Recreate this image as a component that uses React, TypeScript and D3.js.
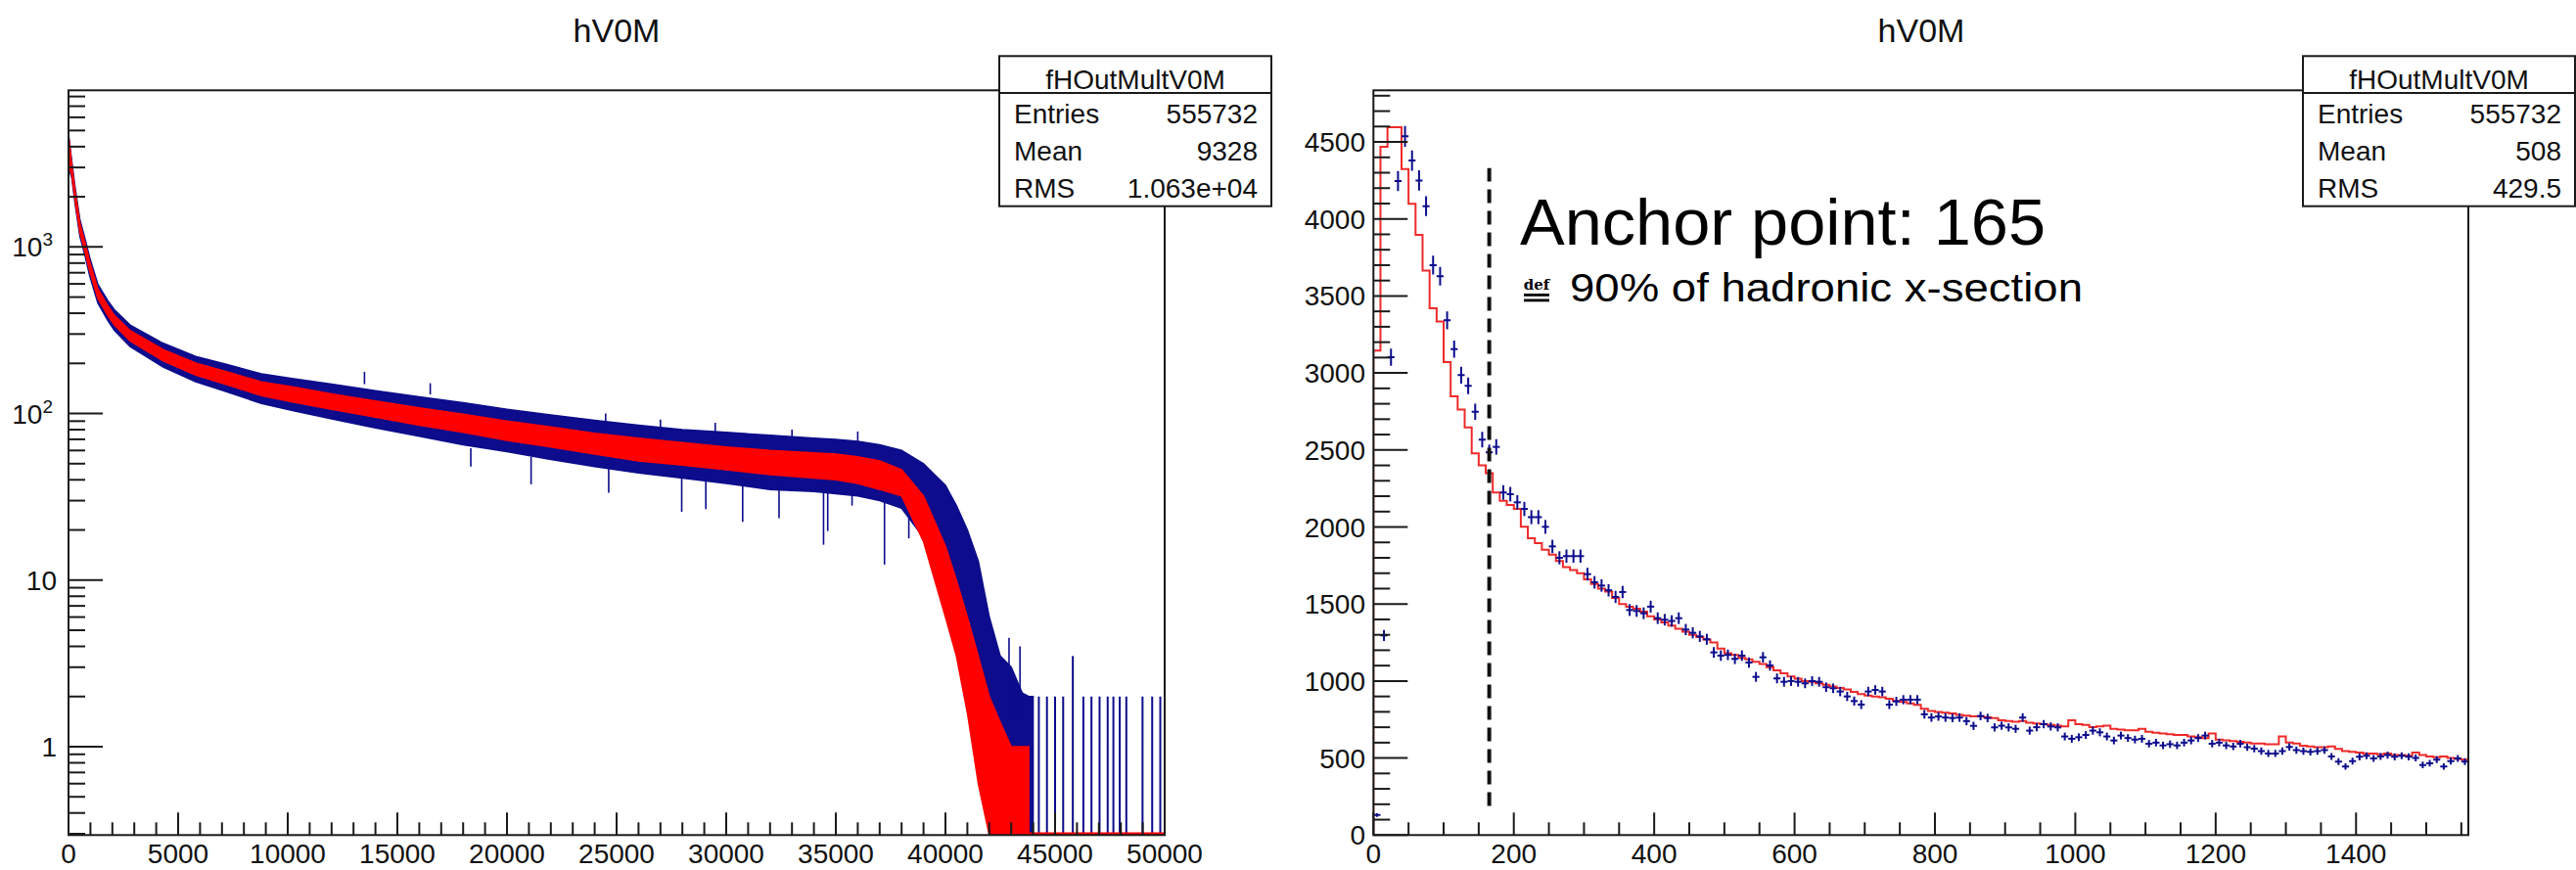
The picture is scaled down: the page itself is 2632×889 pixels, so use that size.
import React from "react";
import * as d3 from "d3";

const W = 2632;
const H = 889;
const FONT = "'Liberation Sans', Arial, Helvetica, sans-serif";
const BLUE = "#0c0c8c";
const RED = "#ff0000";
const RED_LINE = "#ef2a2a";
const AXIS = "#1a1a1a";

// ---------- Full range V0M amplitude (log scale) ----------
// The 5000-bin histograms are drawn as their min/max envelope per x position.
const bandX = [
  0, 150, 300, 520, 750, 970, 1340, 1790, 2090, 2810, 4320, 5800, 7280, 8800,
  10270, 12000, 14000, 16000, 18000, 20000, 22000, 24000, 26000, 28000, 30000,
  32000, 34000, 35000, 36000, 37000, 38000, 39000, 40000, 40500, 41000, 41500,
  42000, 42500, 43000, 43500, 43800, 44000,
];
const simLo = [
  3100, 2700, 1900, 1220, 935, 710, 490, 388, 340, 273, 207, 170, 148, 128,
  117, 106, 95, 85, 77, 69, 63, 57, 52, 49, 46, 43, 41, 40, 38, 35, 32, 17,
  6, 3.5, 1.6, 0.6, 0.29, 0.29, 0.29, 0.29, 0.29, null,
];
const simHi = [
  4700, 3100, 2170, 1390, 1070, 815, 560, 444, 390, 315, 242, 201, 177, 155,
  144, 131, 119, 108, 99, 90, 83, 76, 71, 67, 63, 60, 58, 57, 55, 52, 46, 32,
  16, 10, 6, 3.5, 2, 1.4, 1, 1, 1, null,
];
const dataLo = [
  3000, 2600, 1820, 1160, 890, 670, 460, 362, 316, 252, 190, 155, 134, 115,
  104, 93, 82, 73, 65, 59, 53, 48, 44, 41, 38, 35, 34, 33, 32, 30, 27, 18,
  10, 7, 4, 2, 0.8, 0.29, 0.29, 0.29, 0.29, 0.29,
];
const dataHi = [
  4750, 3250, 2270, 1460, 1125, 860, 595, 476, 420, 340, 264, 220, 196, 173,
  162, 150, 137, 126, 116, 106, 98, 91, 85, 80, 77, 74, 71, 70, 68, 65, 60, 50,
  37, 28, 20, 13, 6, 3.5, 3, 2.1, 2, 2,
];
// single-bin fluctuations of the data histogram standing out of the band
const spikeX = [
  13500, 16500, 18350, 21100, 24500, 24640, 27000, 27970, 29070, 29500, 30750,
  32410, 33000, 34440, 34630, 35740, 36000, 37220, 38330, 42900, 43400,
];
const spikeFrom = [
  150, 130, 62, 55, 80, 50, 75, 45, 45, 70, 40, 40, 62, 38, 38, 38, 60, 34, 30,
  1.5, 1.5,
];
const spikeTo = [
  178, 152, 48, 37.6, 100, 33.5, 92, 25.7, 26.7, 88, 22.4, 23.5, 80, 16.3, 19.7,
  28, 78, 12.4, 17.8, 4.5, 4,
];
// isolated entries in the far tail of the data histogram
const tailX = [
  44260, 44630, 45000, 45370, 45810, 46290, 46660, 47030, 47400, 47660, 47950,
  48250, 48990, 49430, 49800,
];
const tailCounts = [2, 2, 2, 2, 3.5, 2, 2, 2, 2, 2, 2, 2, 2, 2, 2];

// ---------- Zoomed V0M amplitude, 10-unit bins from 0 to 1560 ----------
const binWidth = 10;
const simCounts = [
  3145, 4468, 4595, 4595, 4324, 4098, 3897, 3664, 3420, 3335, 3071, 2848,
  2763, 2647, 2478, 2400, 2350, 2224, 2170, 2143, 2117, 2001, 1927, 1895,
  1852, 1821, 1779, 1740, 1720, 1700, 1660, 1630, 1600, 1580, 1540, 1500,
  1483, 1470, 1450, 1420, 1400, 1380, 1360, 1340, 1320, 1300, 1285, 1270,
  1250, 1210, 1180, 1170, 1150, 1140, 1125, 1110, 1090, 1070, 1050, 1030,
  1015, 1000, 995, 985, 975, 965, 955, 945, 930, 915, 905, 900, 895, 885,
  870, 865, 855, 845, 820, 805, 800, 795, 790, 780, 775, 770, 770, 765, 760,
  745, 740, 735, 740, 730, 725, 720, 715, 710, 705, 745, 720, 715, 700, 705,
  710, 690, 685, 680, 680, 690, 670, 665, 660, 655, 650, 650, 640, 635, 630,
  660, 620, 615, 610, 605, 600, 595, 595, 590, 590, 640, 600, 595, 580, 575,
  570, 570, 575, 560, 545, 540, 535, 530, 530, 525, 530, 520, 520, 515, 535,
  520, 510, 505, 510, 500, 495, 490,
];
const dataCounts = [
  130, 1296, 3102, 4246, 4536, 4379, 4250, 4083, 3700, 3628, 3342, 3155, 2986,
  2916, 2748, 2567, 2485, 2520, 2224, 2213, 2160, 2117, 2064, 2064, 2001, 1874,
  1800, 1811, 1811, 1811, 1694, 1641, 1620, 1589, 1546, 1578, 1461, 1455, 1440,
  1483, 1408, 1398, 1390, 1408, 1334, 1313, 1290, 1271, 1186, 1165, 1170, 1144,
  1165, 1120, 1027, 1154, 1101, 1017, 995, 1000, 995, 985, 1000, 995, 960, 953,
  932, 900, 870, 847, 932, 942, 932, 847, 868, 879, 879, 879, 784, 763, 770,
  763, 760, 763, 740, 709, 773, 760, 699, 710, 699, 690, 763, 678, 700, 720,
  705, 699, 640, 625, 635, 650, 678, 667, 640, 614, 646, 630, 620, 625, 593,
  600, 582, 590, 582, 600, 614, 630, 646, 593, 600, 582, 575, 593, 570, 561,
  545, 530, 530, 545, 572, 551, 545, 540, 545, 551, 510, 477, 445, 480, 508,
  515, 498, 510, 519, 508, 515, 508, 500, 455, 466, 490, 445, 480, 498, 477,
];
const anchorPoint = 165;
const anchorSpan = [190, 4330];

const leftStats = [
  ["Entries", "555732"],
  ["Mean", "9328"],
  ["RMS", "1.063e+04"],
];
const rightStats = [
  ["Entries", "555732"],
  ["Mean", "508"],
  ["RMS", "429.5"],
];

function StatsBox({ x, title, rows }: { x: number; title: string; rows: string[][] }) {
  const w = 278;
  const top = 57.3;
  const sep = 95;
  const bottom = 210.7;
  const baselines = [126, 164, 201.7];
  return (
    <g fontFamily={FONT} fill="#111">
      <rect x={x} y={top} width={w} height={bottom - top} fill="#fff" stroke={AXIS} strokeWidth={2} />
      <line x1={x} x2={x + w} y1={sep} y2={sep} stroke={AXIS} strokeWidth={2} />
      <text x={x + w / 2} y={91} fontSize={28} textAnchor="middle">{title}</text>
      {rows.map((r, i) => (
        <g key={r[0]}>
          <text x={x + 15} y={baselines[i]} fontSize={28}>{r[0]}</text>
          <text x={x + w - 14} y={baselines[i]} fontSize={28} textAnchor="end">{r[1]}</text>
        </g>
      ))}
    </g>
  );
}

export default function App() {
  // ----- left panel scales -----
  const xL = d3.scaleLinear().domain([0, 50000]).range([70, 1190]);
  const yL = d3.scaleLog().domain([0.2947, 8713]).range([853.3, 92.3]).clamp(true);
  // ----- right panel scales -----
  const xR = d3.scaleLinear().domain([0, 1560]).range([1403.3, 2522]);
  const yR = d3.scaleLinear().domain([0, 4835]).range([853.3, 92.3]);

  const [lx0, lx1] = xL.range();
  const [ly0, ly1] = yL.range();
  const [rx0, rx1] = xR.range();
  const [ry0, ry1] = yR.range();

  const band = bandX.map((x, i) => ({ x, slo: simLo[i], shi: simHi[i], dlo: dataLo[i], dhi: dataHi[i] }));
  const dataArea = d3
    .area<any>()
    .defined((d) => d.dlo != null)
    .x((d) => xL(d.x))
    .y0((d) => yL(d.dlo))
    .y1((d) => yL(d.dhi));
  const simArea = d3
    .area<any>()
    .defined((d) => d.slo != null)
    .x((d) => xL(d.x))
    .y0((d) => yL(d.slo))
    .y1((d) => yL(d.shi));

  // log-axis ticks
  const logTicks = yL.ticks();
  const isMajorLog = (v: number) => Math.abs(Math.log10(v) - Math.round(Math.log10(v))) < 1e-9;
  const xLMajor = d3.range(0, 50001, 5000);
  const xLMinor = d3.range(0, 50001, 1000);

  // right panel ticks
  const yRMajor = d3.range(0, 4835, 500);
  const yRMinor = d3.range(0, 4835, 100);
  const xRMajor = d3.range(0, 1561, 200);
  const xRMinor = d3.range(0, 1561, 50);

  // step outline of the simulated histogram
  const stepPts: [number, number][] = [[0, 0]];
  simCounts.forEach((v, k) => stepPts.push([k * binWidth, v]));
  stepPts.push([simCounts.length * binWidth, simCounts[simCounts.length - 1]]);
  const stepLine = d3
    .line<[number, number]>()
    .curve(d3.curveStepAfter)
    .x((d) => xR(d[0]))
    .y((d) => yR(d[1]));

  const tickLabelSize = 28;
  const xLabelY = 882;

  return (
    <svg
      width={W}
      height={H}
      viewBox={`0 0 ${W} ${H}`}
      style={{ position: "absolute", left: 0, top: 0, background: "#fff" }}
    >
      <defs>
        <clipPath id="clipL">
          <rect x={lx0} y={ly1} width={lx1 - lx0} height={ly0 - ly1} />
        </clipPath>
        <clipPath id="clipR">
          <rect x={rx0} y={ry1} width={rx1 - rx0} height={ry0 - ry1} />
        </clipPath>
      </defs>
      <rect x={0} y={0} width={W} height={H} fill="#fff" />

      {/* ================= left panel ================= */}
      <text x={630} y={43} fontFamily={FONT} fontSize={34} textAnchor="middle" fill="#111">hV0M</text>
      <g clipPath="url(#clipL)">
        <path d={dataArea(band) || ""} fill={BLUE} stroke={BLUE} strokeWidth={1.5} />
        {spikeX.map((x, i) => (
          <line key={"sp" + x} x1={xL(x)} x2={xL(x)} y1={yL(spikeFrom[i])} y2={yL(spikeTo[i])} stroke={BLUE} strokeWidth={1.6} />
        ))}
        {tailX.map((x, i) => (
          <line key={x} x1={xL(x)} x2={xL(x)} y1={ly0} y2={yL(tailCounts[i])} stroke={BLUE} strokeWidth={2} />
        ))}
        <path d={simArea(band) || ""} fill={RED} stroke={RED} strokeWidth={1.5} />
        <line x1={xL(43800)} x2={lx1} y1={ly0 - 1.5} y2={ly0 - 1.5} stroke={RED} strokeWidth={2.5} />
      </g>
      {/* frame */}
      <rect x={lx0} y={ly1} width={lx1 - lx0} height={ly0 - ly1} fill="none" stroke={AXIS} strokeWidth={2} />
      {/* y ticks (log) */}
      {logTicks.map((v) => {
        const y = yL(v);
        const major = isMajorLog(v);
        return <line key={"yl" + v} x1={lx0} x2={lx0 + (major ? 35 : 17)} y1={y} y2={y} stroke={AXIS} strokeWidth={2} />;
      })}
      {logTicks.filter(isMajorLog).map((v) => {
        const y = yL(v) + 10;
        const e = Math.round(Math.log10(v));
        if (e <= 1)
          return (
            <text key={"yll" + v} x={58} y={y} fontFamily={FONT} fontSize={tickLabelSize} textAnchor="end" fill="#111">
              {String(v)}
            </text>
          );
        return (
          <text key={"yll" + v} x={54} y={y} fontFamily={FONT} fontSize={tickLabelSize} textAnchor="end" fill="#111">
            10
            <tspan fontSize={19} dy={-11}>{e}</tspan>
          </text>
        );
      })}
      {/* x ticks */}
      {xLMinor.map((v) => (
        <line key={"xlm" + v} x1={xL(v)} x2={xL(v)} y1={ly0} y2={ly0 - 13} stroke={AXIS} strokeWidth={2} />
      ))}
      {xLMajor.map((v) => (
        <g key={"xl" + v}>
          <line x1={xL(v)} x2={xL(v)} y1={ly0} y2={ly0 - 23} stroke={AXIS} strokeWidth={2} />
          <text x={xL(v)} y={xLabelY} fontFamily={FONT} fontSize={tickLabelSize} textAnchor="middle" fill="#111">
            {v}
          </text>
        </g>
      ))}
      <StatsBox x={1021} title="fHOutMultV0M" rows={leftStats} />

      {/* ================= right panel ================= */}
      <text x={1963} y={43} fontFamily={FONT} fontSize={34} textAnchor="middle" fill="#111">hV0M</text>
      <g clipPath="url(#clipR)">
        <path d={stepLine(stepPts) || ""} fill="none" stroke={RED_LINE} strokeWidth={2} />
        {dataCounts.map((v, k) => {
          const cx = xR(k * binWidth + binWidth / 2);
          const err = Math.sqrt(v);
          return (
            <g key={"pt" + k} stroke={BLUE} strokeWidth={2}>
              <line x1={xR(k * binWidth)} x2={xR((k + 1) * binWidth)} y1={yR(v)} y2={yR(v)} />
              <line x1={cx} x2={cx} y1={yR(v - err)} y2={yR(v + err)} />
            </g>
          );
        })}
      </g>
      <rect x={rx0} y={ry1} width={rx1 - rx0} height={ry0 - ry1} fill="none" stroke={AXIS} strokeWidth={2} />
      {yRMinor.map((v) => (
        <line key={"yrm" + v} x1={rx0} x2={rx0 + (v % 500 === 0 ? 35 : 17)} y1={yR(v)} y2={yR(v)} stroke={AXIS} strokeWidth={2} />
      ))}
      {yRMajor.map((v) => (
        <text key={"yr" + v} x={1395} y={yR(v) + 10} fontFamily={FONT} fontSize={tickLabelSize} textAnchor="end" fill="#111">
          {v}
        </text>
      ))}
      {xRMinor.map((v) => (
        <line key={"xrm" + v} x1={xR(v)} x2={xR(v)} y1={ry0} y2={ry0 - (v % 200 === 0 ? 23 : 13)} stroke={AXIS} strokeWidth={2} />
      ))}
      {xRMajor.map((v) => (
        <text key={"xr" + v} x={xR(v)} y={xLabelY} fontFamily={FONT} fontSize={tickLabelSize} textAnchor="middle" fill="#111">
          {v}
        </text>
      ))}
      {/* anchor point marker */}
      <line
        x1={xR(anchorPoint)}
        x2={xR(anchorPoint)}
        y1={yR(anchorSpan[0])}
        y2={yR(anchorSpan[1])}
        stroke="#111"
        strokeWidth={4}
        strokeDasharray="14 8"
      />
      <text x={1553} y={250} fontFamily={FONT} fontSize={67} fill="#000" textLength={537} lengthAdjust="spacingAndGlyphs">
        {`Anchor point: ${anchorPoint}`}
      </text>
      <g fill="#000">
        <text x={1570} y={296} fontFamily="'DejaVu Serif', serif" fontSize={15} fontWeight="bold" textAnchor="middle">
          def
        </text>
        <rect x={1557} y={300} width={26} height={2.8} />
        <rect x={1557} y={305.5} width={26} height={2.8} />
        <text x={1604} y={308} fontFamily={FONT} fontSize={41} textLength={524} lengthAdjust="spacingAndGlyphs">
          90% of hadronic x-section
        </text>
      </g>
      <StatsBox x={2353} title="fHOutMultV0M" rows={rightStats} />
    </svg>
  );
}
